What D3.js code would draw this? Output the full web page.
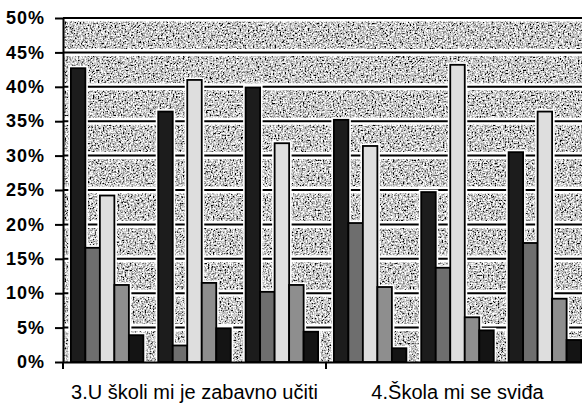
<!DOCTYPE html>
<html>
<head>
<meta charset="utf-8">
<script src="https://cdn.jsdelivr.net/npm/d3@7"></script>
<style>
  body { margin: 0; background: #fff; }
  svg { display: block; }
</style>
</head>
<body>
<script>
// two questions, each answered by three groups, five answer options per group
var questions = ["3.U školi mi je zabavno učiti", "4.Škola mi se sviđa"];
var groups = ["g1", "g2", "g3"];
var seriesKeys = ["s1", "s2", "s3", "s4", "s5"];

// percentages, order: question 1 (g1,g2,g3), question 2 (g1,g2,g3)
var s1 = [42.7, 36.4, 39.9, 35.2, 24.7, 30.5];
var s2 = [16.6, 2.4, 10.2, 20.2, 13.7, 17.3];
var s3 = [24.2, 41.0, 31.8, 31.4, 43.2, 36.4];
var s4 = [11.2, 11.5, 11.2, 10.9, 6.5, 9.2];
var s5 = [3.9, 4.9, 4.4, 2.0, 4.6, 3.2];

var yTicks = [0, 5, 10, 15, 20, 25, 30, 35, 40, 45, 50];

var seriesValues = [s1, s2, s3, s4, s5];
var colors = ["#1c1c1c", "#6e6e6e", "#dedede", "#8e8e8e", "#141414"];

var data = [];
questions.forEach(function(q, qi){
  groups.forEach(function(g, gi){
    seriesKeys.forEach(function(s, si){
      data.push({q: q, g: g, s: s, value: seriesValues[si][qi * groups.length + gi]});
    });
  });
});

var width = 582, height = 403;
var plotLeft = 63, plotRight = 589, plotTop = 18, plotBottom = 362;

var svg = d3.select("body")
    .append("svg")
    .attr("width", width)
    .attr("height", height);

// speckle to imitate the scanned halftone background
var filt = svg.append("defs").append("filter")
  .attr("id", "speckle")
  .attr("x", 0).attr("y", 0).attr("width", 1).attr("height", 1);
filt.append("feTurbulence")
  .attr("type", "fractalNoise")
  .attr("baseFrequency", 0.6)
  .attr("numOctaves", 2)
  .attr("seed", 4)
  .attr("result", "noise");
filt.append("feColorMatrix")
  .attr("in", "noise")
  .attr("type", "matrix")
  .attr("values", "2.6 0 0 0 -0.72  2.6 0 0 0 -0.72  2.6 0 0 0 -0.72  0 0 0 0 1");

var x0 = d3.scaleBand()
    .domain(questions)
    .range([plotLeft, plotRight]);

var x1 = d3.scaleBand()
    .domain(groups)
    .range([0, x0.bandwidth()])
    .paddingInner(0.17)
    .paddingOuter(0.09);

var x2 = d3.scaleBand()
    .domain(seriesKeys)
    .range([0, x1.bandwidth()]);

var y = d3.scaleLinear()
    .domain([0, 50])
    .range([plotBottom, plotTop]);

// plot background
svg.append("rect")
  .attr("x", plotLeft)
  .attr("y", plotTop)
  .attr("width", plotRight - plotLeft)
  .attr("height", plotBottom - plotTop)
  .attr("fill", "#a2a2a2")
  .attr("filter", "url(#speckle)");

// gridlines: white halo then black line
var gridVals = yTicks.filter(function(d){ return d > 0; });
var grid = svg.append("g");
grid.selectAll("line.halo")
  .data(gridVals)
  .join("line")
  .attr("class", "halo")
  .attr("x1", plotLeft).attr("x2", plotRight)
  .attr("y1", function(d){ return y(d); })
  .attr("y2", function(d){ return y(d); })
  .attr("stroke", "#fff")
  .attr("stroke-width", 7);
grid.selectAll("line.gl")
  .data(gridVals)
  .join("line")
  .attr("class", "gl")
  .attr("x1", plotLeft).attr("x2", plotRight)
  .attr("y1", function(d){ return y(d); })
  .attr("y2", function(d){ return y(d); })
  .attr("stroke", "#000")
  .attr("stroke-width", 2);

// bars
var bars = svg.append("g");
function barX(d){ return x0(d.q) + x1(d.g) + x2(d.s); }

bars.selectAll("rect.halo")
  .data(data)
  .join("rect")
  .attr("class", "halo")
  .attr("x", barX)
  .attr("y", function(d){ return y(d.value); })
  .attr("width", x2.bandwidth())
  .attr("height", function(d){ return y(0) - y(d.value); })
  .attr("fill", "none")
  .attr("stroke", "#fff")
  .attr("stroke-width", 5);

bars.selectAll("rect.bar")
  .data(data)
  .join("rect")
  .attr("class", "bar")
  .attr("x", barX)
  .attr("y", function(d){ return y(d.value); })
  .attr("width", x2.bandwidth())
  .attr("height", function(d){ return y(0) - y(d.value); })
  .attr("fill", function(d){ return colors[seriesKeys.indexOf(d.s)]; })
  .attr("stroke", "#000")
  .attr("stroke-width", 1.8);

// y axis
var yAxis = d3.axisLeft(y)
  .tickValues(yTicks)
  .tickSize(8)
  .tickSizeOuter(0)
  .tickPadding(10)
  .tickFormat(function(d){ return d + "%"; });

var ya = svg.append("g")
  .attr("transform", "translate(" + plotLeft + ",0)")
  .call(yAxis);
ya.select(".domain").attr("stroke", "#000").attr("stroke-width", 2);
ya.selectAll(".tick line").attr("stroke", "#000").attr("stroke-width", 2);
ya.selectAll("text")
  .attr("fill", "#000")
  .attr("font-family", "Liberation Sans, Arial, sans-serif")
  .attr("font-weight", "bold")
  .attr("font-size", 18)
  .attr("letter-spacing", 1);

// x axis
var xAxis = d3.axisBottom(x0)
  .tickSize(0)
  .tickSizeOuter(0)
  .tickPadding(23);

var xa = svg.append("g")
  .attr("transform", "translate(0," + plotBottom + ")")
  .call(xAxis);
xa.select(".domain").attr("stroke", "#000").attr("stroke-width", 2);
xa.selectAll("text")
  .attr("fill", "#000")
  .attr("font-family", "Liberation Sans, Arial, sans-serif")
  .attr("font-size", 20);

// category boundary ticks
xa.selectAll("line.sep")
  .data(questions.map(function(q){ return x0(q); }).concat([plotRight]))
  .join("line")
  .attr("class", "sep")
  .attr("x1", function(d){ return d; })
  .attr("x2", function(d){ return d; })
  .attr("y1", 0)
  .attr("y2", 7)
  .attr("stroke", "#000")
  .attr("stroke-width", 2);

// top border
svg.append("line")
  .attr("x1", plotLeft).attr("x2", plotRight)
  .attr("y1", plotTop).attr("y2", plotTop)
  .attr("stroke", "#000")
  .attr("stroke-width", 2);
</script>
</body>
</html>
